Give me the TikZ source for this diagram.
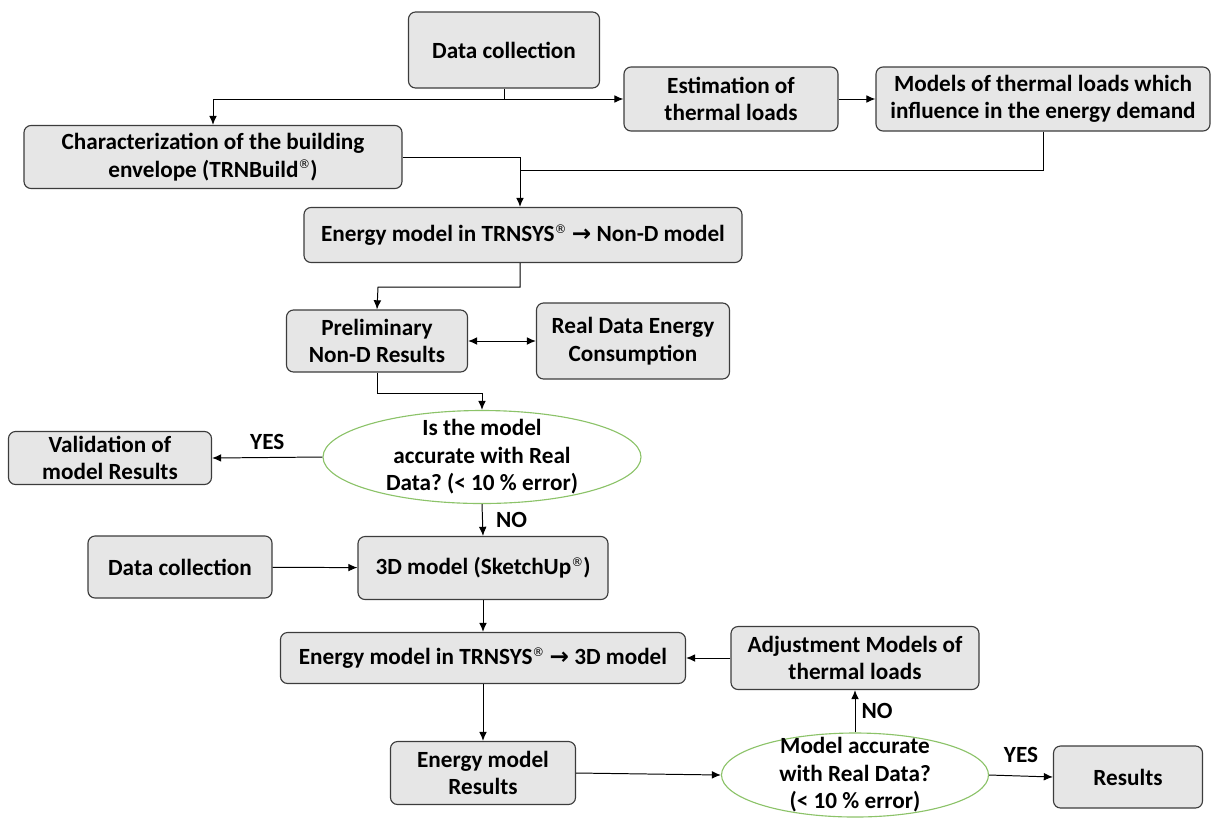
\documentclass[tikz,border=0pt]{standalone}
\usepackage{fontspec}
\setmainfont{Carlito}
\newfontfamily\arrowfont{DejaVu Sans}
\usepackage{tikz}
\usetikzlibrary{shapes.geometric,arrows.meta}
\definecolor{boxfill}{RGB}{230,230,230}
\definecolor{boxline}{RGB}{60,60,60}
\definecolor{decline}{RGB}{140,195,105}
\newlength\px
\setlength\px{0.025cm}
\newcommand\rsym{\raisebox{0.75ex}{\arrowfont\mdseries\fontsize{8.5}{8.5}\selectfont ®}}
\newcommand\toarr{{\arrowfont\bfseries →}}
\frenchspacing
\begin{document}
\begin{tikzpicture}[x=0.025cm,y=-0.025cm,
    txt/.style={font=\bfseries\fontsize{16.5}{19.5}\selectfont,align=center},
    blk/.style={txt,draw=boxline,fill=boxfill,line width=0.8pt,rounded corners=5pt,inner sep=0pt},
    dec/.style={ellipse,draw=decline,fill=white,line width=0.8pt,inner sep=0pt},
    arr/.style={-{Latex[length=6.5pt,width=5.5pt]},line width=0.7pt}]
   \useasboundingbox (0,0) rectangle (1214,818);
   \node[blk,minimum width=191\px,minimum height=76\px] (dc1) at (504,50) {Data collection};
   \node[blk,minimum width=214\px,minimum height=64\px] (est) at (731,99) {Estimation of\\thermal loads};
   \node[blk,minimum width=334\px,minimum height=64\px] (mod) at (1043,99) {Models of thermal loads which\\influence in the energy demand};
   \node[blk,minimum width=378\px,minimum height=63\px] (chr) at (213,157) {Characterization of the building\\envelope (TRNBuild\rsym)};
   \node[blk,minimum width=438\px,minimum height=55\px] (enn) at (523,235) {Energy model in TRNSYS\rsym{} \toarr{} Non-D model};
   \node[blk,minimum width=181\px,minimum height=62\px] (pre) at (377,341) {Preliminary\\Non-D Results};
   \node[blk,minimum width=193\px,minimum height=76\px] (real) at (633,341) {Real Data Energy\\Consumption};
   \node[dec,minimum width=318\px,minimum height=93\px,label={[txt]center:Is the model\\accurate with Real\\Data? (< 10 \% error)}] (q1) at (482,457) {};
   \node[blk,minimum width=203\px,minimum height=53\px] (val) at (110,458) {Validation of\\model Results};
   \node[blk,minimum width=184\px,minimum height=62\px] (dc2) at (180,567) {Data collection};
   \node[blk,minimum width=250\px,minimum height=63\px] (td) at (483,568) {3D model (SketchUp\rsym)};
   \node[blk,minimum width=405\px,minimum height=51\px] (en3) at (483,658) {Energy model in TRNSYS\rsym{} \toarr{} 3D model};
   \node[blk,minimum width=248\px,minimum height=63\px] (adj) at (855,658) {Adjustment Models of\\thermal loads};
   \node[blk,minimum width=185\px,minimum height=63\px] (res1) at (483,773) {Energy model\\Results};
   \node[dec,minimum width=267\px,minimum height=84\px,label={[txt]center:Model accurate\\with Real Data?\\(< 10 \% error)}] (q2) at (855,775) {};
   \node[blk,minimum width=149\px,minimum height=62\px] (res) at (1128,777) {Results};
   \coordinate (j2) at (520,170);
   \coordinate (j3) at (378,287);
   \coordinate (j4) at (482,393);
   \draw[arr] (dc1.south) |- (est.west);
   \draw[arr] (dc1.south |- est.west) -| (chr.north);
   \draw[arr] (est) -- (mod);
   \draw[arr] (chr.east) -| (enn.north -| j2);
   \draw (mod.south) |- (j2);
   \draw[arr] (enn.south -| j2) |- (j3) -- (pre.north);
   \draw[{Latex[length=6.5pt,width=5.5pt]}-{Latex[length=6.5pt,width=5.5pt]},line width=0.7pt] (pre) -- (real);
   \draw[arr] (pre.south) |- (j4) -- (q1.north);
   \draw[arr] (q1.west) -- node[txt,above=2pt]{YES} (val.east);
   \draw[arr] (q1.south) -- node[txt,right=6pt]{NO} (td.north);
   \draw[arr] (dc2) -- (td);
   \draw[arr] (td) -- (en3);
   \draw[arr] (en3) -- (res1);
   \draw[arr] (adj) -- (en3);
   \draw[arr] (res1.east) -- (q2.west);
   \draw[arr] (q2.north) -- node[txt,right=1pt]{NO} (adj.south);
   \draw[arr] (q2.east) -- node[txt,above=6pt]{YES} (res.west);
\end{tikzpicture}
\end{document}
